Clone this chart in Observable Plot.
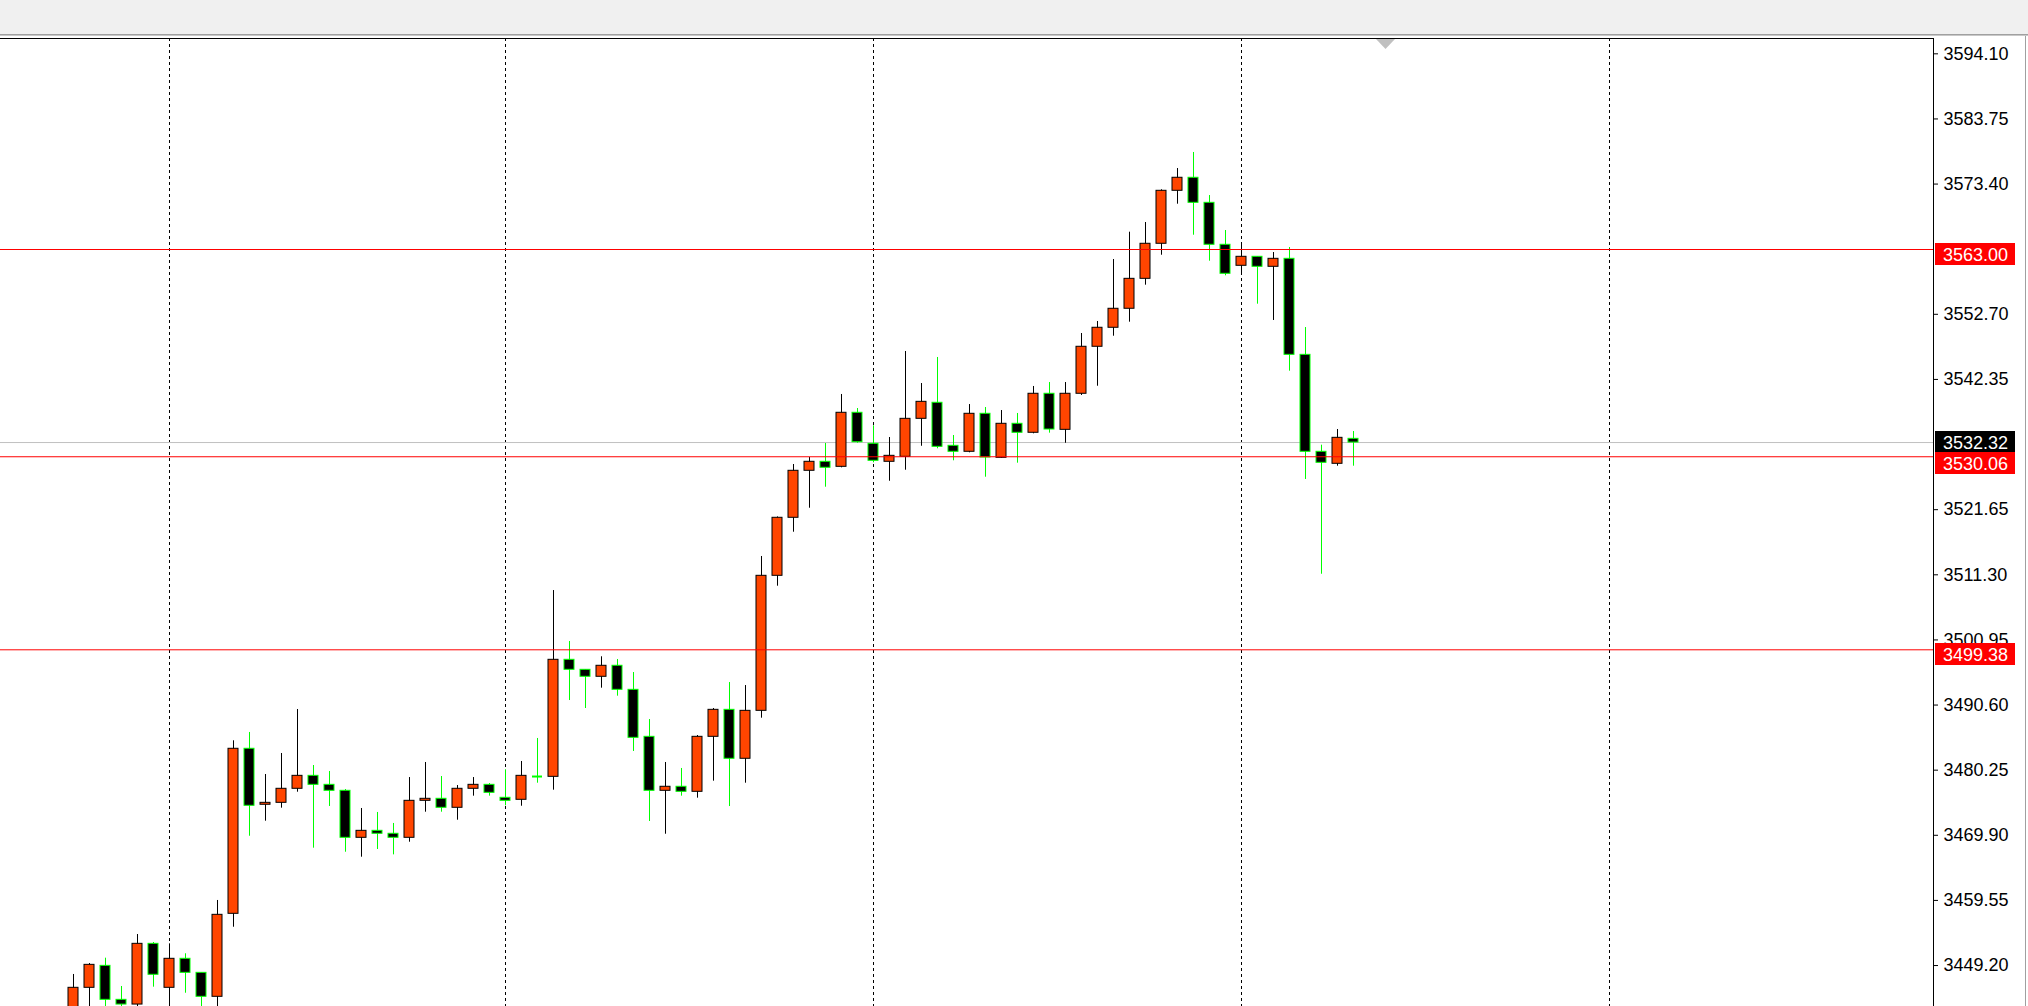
<!DOCTYPE html>
<html>
<head>
<meta charset="utf-8">
<script src="https://cdn.jsdelivr.net/npm/d3@7"></script>
<script src="https://cdn.jsdelivr.net/npm/@observablehq/plot@0.6"></script>
<style>
  html, body { margin: 0; padding: 0; background: #ffffff; overflow: hidden; }
  #header { width: 2028px; height: 34px; background: #f0f0f0; }
  #hline1 { width: 2028px; height: 1px; background: #a0a0a0; }
  #hline2 { width: 2028px; height: 1px; background: #c8c8c8; }
  #chart { position: relative; width: 2028px; height: 970px; }
  #chart svg { display: block; }
  #edge { position: absolute; left: 2025px; top: 0; width: 1px; height: 970px; background: #a0a0a0; }
</style>
</head>
<body>
<div id="header"></div>
<div id="hline1"></div>
<div id="hline2"></div>
<div id="chart"><div id="edge"></div></div>
<script>
// ---- Data (one entry per bar, oldest first) ----
const open = [
  3441.20, 3445.66, 3449.15, 3443.75, 3443.00, 3452.65, 3445.66, 3450.27, 3448.04, 3444.23,
  3457.42, 3483.65, 3474.75, 3475.06, 3477.29, 3479.35, 3477.92, 3476.97, 3469.50, 3470.61,
  3470.14, 3469.50, 3475.38, 3475.70, 3474.27, 3477.29, 3477.92, 3475.86, 3475.54, 3479.24,
  3479.19, 3497.79, 3496.20, 3495.09, 3496.84, 3493.02, 3485.55, 3476.97, 3477.61, 3476.81,
  3485.55, 3489.84, 3482.06, 3489.68, 3511.14, 3520.36, 3527.83, 3529.26, 3528.46, 3537.05,
  3532.12, 3529.26, 3530.05, 3536.09, 3538.64, 3531.80, 3530.85, 3536.89, 3529.89, 3535.30,
  3533.87, 3540.07, 3534.34, 3540.07, 3547.54, 3550.56, 3553.58, 3558.34, 3563.91, 3572.33,
  3574.40, 3570.42, 3563.75, 3560.41, 3561.84, 3560.25, 3561.52, 3546.26, 3530.85, 3528.94,
  3532.91
];
const high = [
  3447.78, 3449.52, 3450.37, 3445.87, 3454.13, 3452.86, 3452.65, 3451.07, 3448.04, 3459.54,
  3484.92, 3486.24, 3479.56, 3482.90, 3489.89, 3480.99, 3480.04, 3477.18, 3474.16, 3473.53,
  3471.78, 3479.08, 3481.47, 3479.24, 3477.81, 3479.08, 3478.13, 3480.31, 3481.63, 3485.29,
  3508.80, 3500.70, 3496.20, 3498.27, 3497.84, 3495.77, 3488.30, 3481.47, 3480.52, 3485.76,
  3490.05, 3494.18, 3493.70, 3514.21, 3520.50, 3528.83, 3529.94, 3532.17, 3539.96, 3537.73,
  3534.98, 3533.12, 3546.79, 3541.70, 3545.84, 3533.44, 3538.36, 3537.89, 3537.41, 3536.94,
  3541.23, 3541.86, 3541.86, 3549.65, 3551.56, 3561.41, 3565.75, 3567.29, 3572.49, 3575.87,
  3578.42, 3571.58, 3566.02, 3564.11, 3561.84, 3562.52, 3563.32, 3550.60, 3531.90, 3534.39,
  3534.07
];
const low = [
  3440.00, 3441.80, 3442.20, 3442.40, 3442.50, 3445.76, 3441.80, 3444.80, 3442.50, 3442.30,
  3455.29, 3469.75, 3472.14, 3474.21, 3476.75, 3467.85, 3474.48, 3467.21, 3466.42, 3467.64,
  3466.79, 3468.80, 3473.57, 3473.57, 3472.30, 3476.12, 3476.12, 3474.59, 3474.52, 3478.18,
  3477.07, 3491.32, 3490.05, 3493.28, 3492.01, 3483.22, 3472.09, 3470.07, 3476.12, 3475.80,
  3478.50, 3474.47, 3478.18, 3488.51, 3509.49, 3518.07, 3521.88, 3525.22, 3528.30, 3532.21,
  3529.10, 3526.17, 3527.92, 3531.73, 3531.33, 3529.42, 3530.69, 3526.81, 3529.80, 3529.04,
  3533.71, 3533.81, 3532.21, 3539.80, 3541.27, 3549.22, 3551.45, 3557.33, 3562.09, 3570.20,
  3565.27, 3561.14, 3558.82, 3558.92, 3554.31, 3551.72, 3543.66, 3526.45, 3511.39, 3528.56,
  3528.56
];
const close = [
  3445.66, 3449.31, 3443.75, 3443.00, 3452.65, 3447.73, 3450.27, 3448.04, 3444.23, 3457.26,
  3483.65, 3474.59, 3475.06, 3477.29, 3479.35, 3477.92, 3476.97, 3469.50, 3470.61, 3470.14,
  3469.50, 3475.38, 3475.70, 3474.27, 3477.29, 3477.92, 3476.65, 3475.38, 3479.35, 3479.24,
  3497.79, 3496.20, 3495.09, 3496.84, 3493.02, 3485.39, 3476.97, 3477.61, 3476.81, 3485.55,
  3489.84, 3482.06, 3489.68, 3511.14, 3520.36, 3527.83, 3529.26, 3528.31, 3537.05, 3532.37,
  3529.42, 3530.21, 3536.09, 3538.79, 3531.64, 3530.85, 3536.89, 3529.94, 3535.30, 3533.87,
  3540.07, 3534.39, 3540.07, 3547.54, 3550.56, 3553.58, 3558.34, 3563.91, 3572.33, 3574.40,
  3570.42, 3563.75, 3559.14, 3561.84, 3560.25, 3561.52, 3546.26, 3530.85, 3529.10, 3533.07,
  3532.32
];
// Horizontal price levels (red lines with labels)
const levels = [3563.00, 3530.06, 3499.38];
// Bars where the dashed period separators fall
const separatorBars = [6, 27, 50, 73, 96];
// Price axis tick labels that are visible (3532.00 and 3563.05 sit under the level boxes)
const priceTicks = [3449.20, 3459.55, 3469.90, 3480.25, 3490.60, 3500.95, 3511.30, 3521.65,
                    3542.35, 3552.70, 3573.40, 3583.75, 3594.10];
// Visible price range of the window
const priceRange = [3442.69, 3596.535];

// ---- Build table ----
const bars = open.map((o, i) => ({
  i, open: o, high: high[i], low: low[i], close: close[i],
  kind: close[i] > o ? "bull" : (close[i] < o ? "bear" : "doji")
}));
const lastClose = close[close.length - 1];
const lastIndex = bars.length - 1;

// ---- Layout ----
const W = 2028, H = 970;
const marginRight = 95;
const plotW = W - marginRight;
const barPx = 16, firstBarPx = 73;
const xDomain = [-firstBarPx / barPx, (plotW - firstBarPx) / barPx];
const half = 5 / barPx;

const BULL_FILL = "#ff4500", BULL_LINE = "#000000";
const BEAR_FILL = "#000000", BEAR_LINE = "#00ff00";

function priceLabels(index, scales, values, dimensions) {
  const g = d3.create("svg:g").attr("text-anchor", "start");
  const left = dimensions.width - dimensions.marginRight + 2;
  const boxW = 80;
  const yb = scales.y(lastClose);
  const bidTop = Math.round(yb - 11);
  const bidH = 21;
  const items = [{v: lastClose, top: bidTop, h: bidH, fill: "#000000"}];
  for (const v of levels) {
    const y = scales.y(v);
    let top = Math.round(y - 6);
    if (top < bidTop + bidH && top + 22 > bidTop) top = bidTop + bidH;
    items.push({v, top, h: 22, fill: "#ff0000"});
  }
  for (const it of items) {
    g.append("rect").attr("x", left).attr("y", it.top).attr("width", boxW).attr("height", it.h)
      .attr("fill", it.fill);
    g.append("text").attr("x", left + 8).attr("y", it.top + it.h / 2 + 1)
      .attr("dy", "0.34em").attr("fill", "#ffffff").attr("font-size", 18)
      .attr("text-anchor", "start")
      .text(d3.format(".2f")(it.v));
  }
  // chart-shift marker
  const xs = scales.x(lastIndex + 2) + 0.5;
  const yt = dimensions.marginTop + 1;
  g.append("path").attr("d", `M${xs - 9.5},${yt}L${xs + 9.5},${yt}L${xs},${yt + 10}Z`).attr("fill", "#c0c0c0");
  return g.node();
}

const chart = Plot.plot({
  width: W,
  height: H,
  marginTop: 2,
  marginBottom: 0,
  marginLeft: 0,
  marginRight,
  x: {type: "linear", domain: xDomain, axis: null},
  y: {type: "linear", domain: priceRange, axis: null},
  color: {type: "identity"},
  style: {fontFamily: "'Liberation Sans', Arial, sans-serif", fontSize: "18px", background: "#ffffff", color: "#000000"},
  marks: [
    Plot.ruleX(separatorBars, {stroke: "#000000", strokeDasharray: "3,3"}),
    Plot.ruleY([lastClose], {stroke: "#c0c0c0"}),
    Plot.ruleX(bars, {x: "i", y1: "low", y2: "high",
      stroke: d => d.kind === "bull" ? BULL_LINE : BEAR_LINE}),
    Plot.rect(bars.filter(d => d.kind !== "doji"), {
      x1: d => d.i - half, x2: d => d.i + half, y1: "open", y2: "close",
      fill: d => d.kind === "bull" ? BULL_FILL : BEAR_FILL,
      stroke: d => d.kind === "bull" ? BULL_LINE : BEAR_LINE,
      strokeWidth: 1
    }),
    Plot.ruleY(bars.filter(d => d.kind === "doji"), {
      y: "open", x1: d => d.i - half, x2: d => d.i + half, stroke: BEAR_LINE, strokeWidth: 2
    }),
    Plot.ruleY(levels, {stroke: "#ff0000"}),
    Plot.ruleY([priceRange[1]], {stroke: "#000000"}),
    Plot.ruleX([xDomain[1]], {stroke: "#000000"}),
    Plot.axisY({anchor: "right", ticks: priceTicks, tickFormat: d3.format(".2f"),
      tickSize: 4, tickPadding: 6, label: null, fontSize: 18}),
    priceLabels
  ]
});
document.getElementById("chart").appendChild(chart);
</script>
</body>
</html>
